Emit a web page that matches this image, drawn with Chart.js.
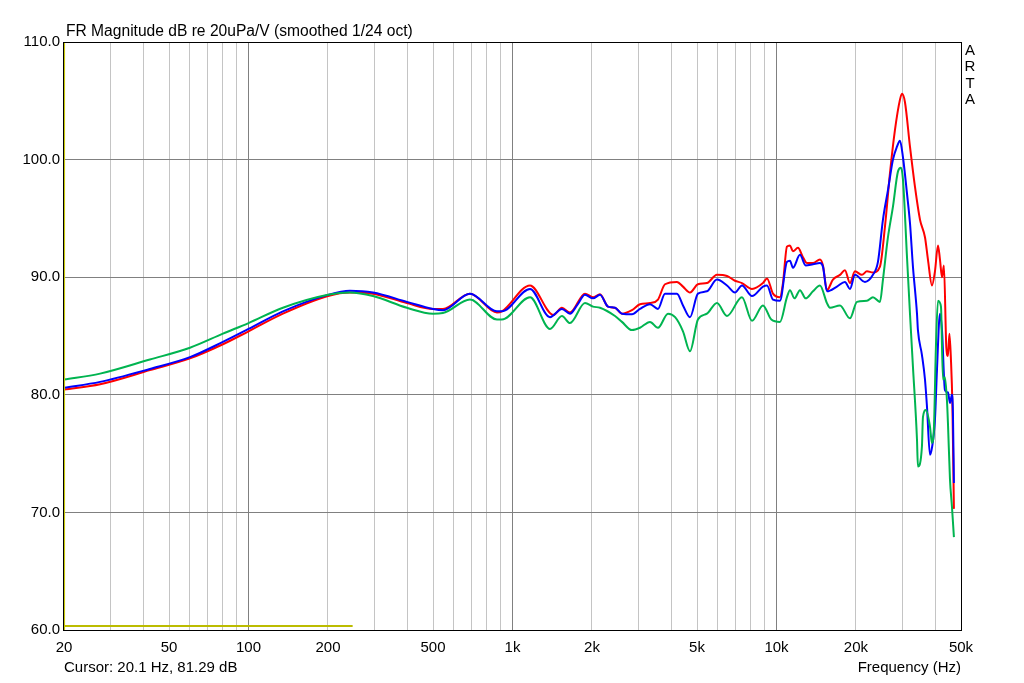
<!DOCTYPE html>
<html>
<head>
<meta charset="utf-8">
<script src="https://cdn.jsdelivr.net/npm/chart.js@4.4.0/dist/chart.umd.min.js"></script>
<style>
  body { margin: 0; background: #fff; }
  canvas { display: block; }
</style>
</head>
<body>
<canvas id="fr" width="1024" height="683"></canvas>
<script>
// frequency response, three measurements (dB re 20uPa/V)
var freqRed = [20, 27.4, 42.3, 60, 80, 100, 135, 200, 242, 296, 398, 500, 545, 690, 873, 912, 1165, 1428, 1539, 1651, 1882, 2018, 2145, 2300, 2445, 2598, 2835, 3040, 3318, 3557, 3782, 4198, 4424, 4702, 5040, 5452, 5950, 6494, 6962, 7400, 8076, 8888, 9206, 9698, 10308, 10582, 10956, 11247, 11546, 12060, 12598, 13046, 13746, 14612, 14998, 15530, 16366, 17396, 18168, 18980, 19826, 21074, 22014, 23196, 24660, 25760, 26900, 28100, 29360, 29880, 30660, 32040, 33460, 34960, 36520, 37480, 38820, 39840, 40900, 41620, 42360, 43080, 44000, 44620, 45200, 45800, 46400, 47000];
var dbRed = [80.45, 80.9, 82.1, 83.1, 84.3, 85.4, 86.9, 88.4, 88.7, 88.6, 87.8, 87.3, 87.3, 88.6, 87.0, 87.1, 89.3, 86.8, 87.4, 87.0, 88.6, 88.3, 88.55, 87.5, 87.4, 86.9, 87.2, 87.7, 87.8, 88.1, 89.4, 89.6, 89.2, 88.7, 89.4, 89.5, 90.2, 90.1, 89.7, 89.5, 89.0, 89.5, 89.9, 88.6, 88.3, 89.5, 92.6, 92.7, 92.2, 92.5, 91.7, 91.2, 91.2, 91.5, 91.0, 88.9, 89.8, 90.2, 90.6, 89.5, 90.5, 90.2, 90.5, 90.4, 90.9, 94.3, 98.8, 102.5, 105.1, 105.6, 104.9, 101.1, 97.7, 94.9, 93.4, 91.5, 89.3, 90.5, 92.7, 91.5, 90.0, 91.0, 84.0, 83.3, 85.2, 83.0, 79.0, 70.3];

var freqBlue = [20, 27.4, 42.3, 60, 80, 100, 135, 200, 242, 296, 398, 500, 545, 690, 873, 912, 1165, 1387, 1539, 1651, 1755, 1882, 2018, 2145, 2300, 2445, 2598, 2835, 3040, 3318, 3557, 3782, 4198, 4424, 4702, 5040, 5452, 5950, 6494, 6962, 7400, 8076, 8888, 9206, 9698, 10308, 10956, 11247, 11546, 12272, 12900, 13746, 14612, 14998, 15530, 16946, 18168, 18980, 19826, 21632, 23196, 24230, 25314, 26440, 27620, 28600, 29360, 30140, 31220, 32040, 32880, 34060, 34340, 35560, 36520, 37160, 38140, 38820, 39840, 40540, 41620, 42360, 43460, 44620, 45420, 46200, 46600, 47000];
var dbBlue = [80.6, 81.1, 82.2, 83.2, 84.5, 85.6, 87.1, 88.5, 88.85, 88.7, 87.9, 87.3, 87.2, 88.6, 87.1, 87.1, 89.0, 86.6, 87.3, 86.9, 87.6, 88.5, 88.2, 88.5, 87.5, 87.4, 86.9, 86.85, 87.3, 87.7, 87.3, 88.6, 88.6, 87.6, 86.6, 88.6, 88.8, 89.8, 89.3, 88.7, 89.3, 88.4, 89.2, 89.3, 88.1, 88.0, 91.3, 91.4, 90.8, 91.9, 91.0, 91.1, 91.2, 90.9, 88.8, 89.2, 89.6, 89.0, 90.2, 89.6, 90.2, 91.3, 94.9, 97.4, 100.0, 101.1, 101.6, 100.2, 97.1, 94.6, 90.9, 86.9, 85.5, 83.4, 81.3, 79.0, 74.9, 75.5, 77.9, 82.1, 86.9, 85.5, 80.4, 80.2, 79.3, 80.0, 78.5, 72.5];

var freqGreen = [20, 27.4, 42.3, 60, 80, 100, 135, 200, 242, 296, 398, 500, 545, 690, 873, 912, 1165, 1387, 1539, 1651, 1882, 2018, 2145, 2445, 2598, 2835, 3040, 3318, 3557, 3882, 4130, 4424, 4702, 5040, 5452, 5950, 6494, 7400, 8076, 8888, 9560, 10308, 10956, 11247, 11700, 12272, 12900, 13746, 14612, 15530, 15942, 17396, 18980, 20176, 22014, 23196, 24660, 25314, 26440, 27620, 28860, 29620, 30140, 31220, 32040, 32880, 34060, 34340, 35560, 35880, 36840, 38140, 38820, 39500, 40180, 40900, 41980, 42720, 43460, 44240, 44620, 45420, 46200, 47000];
var dbGreen = [81.3, 81.8, 83.0, 84.0, 85.2, 86.1, 87.4, 88.5, 88.7, 88.4, 87.4, 86.9, 86.95, 88.1, 86.4, 86.4, 88.3, 85.6, 86.7, 86.1, 87.8, 87.5, 87.4, 86.7, 86.2, 85.5, 85.7, 86.2, 85.7, 86.9, 86.6, 85.4, 83.7, 86.4, 86.9, 87.8, 86.7, 88.3, 86.3, 87.6, 86.4, 86.2, 88.3, 88.9, 88.2, 88.9, 88.2, 88.8, 89.3, 87.8, 87.4, 87.6, 86.5, 87.9, 88.0, 88.3, 87.9, 89.8, 93.4, 96.0, 99.0, 99.3, 98.3, 91.7, 86.9, 82.4, 76.2, 73.9, 75.6, 78.1, 78.7, 77.3, 75.9, 77.3, 84.1, 88.0, 87.5, 81.3, 81.5, 79.5, 77.6, 72.8, 70.5, 67.9];

// yellow marker at the bottom and the cursor
var markerFreq = [20, 248];
var markerDb = [60.35, 60.35];
var cursorFreq = 20.1;

var xGrid = [20, 30, 40, 50, 60, 70, 80, 90, 100, 200, 300, 400, 500, 600, 700, 800, 900,
  1000, 2000, 3000, 4000, 5000, 6000, 7000, 8000, 9000, 10000, 20000, 30000, 40000, 50000];
var xLabels = {20: '20', 50: '50', 100: '100', 200: '200', 500: '500', 1000: '1k', 2000: '2k',
  5000: '5k', 10000: '10k', 20000: '20k', 50000: '50k'};

function pts(f, d) {
  return f.map(function (v, i) { return {x: v, y: d[i]}; });
}

var FONT = '"Liberation Sans", Arial, sans-serif';

var frame = {
  id: 'frame',
  beforeDraw: function (chart) {
    var c = chart.ctx;
    c.save();
    c.fillStyle = '#fff';
    c.fillRect(0, 0, chart.width, chart.height);
    c.restore();
  },
  afterDraw: function (chart) {
    var c = chart.ctx, a = chart.chartArea;
    c.save();
    c.strokeStyle = '#000';
    c.lineWidth = 1;
    c.strokeRect(Math.round(a.left) - 0.5, Math.round(a.top) + 0.5,
      Math.round(a.right - a.left) + 1, Math.round(a.bottom - a.top));
    c.fillStyle = '#000';
    c.textBaseline = 'alphabetic';
    c.textAlign = 'left';
    c.font = '15.6px ' + FONT;
    c.fillText('FR Magnitude dB re 20uPa/V (smoothed 1/24 oct)', 66, 36);
    c.font = '15px ' + FONT;
    c.fillText('Cursor: 20.1 Hz, 81.29 dB', 64, 672);
    c.textAlign = 'right';
    c.fillText('Frequency (Hz)', 961, 672);
    c.textAlign = 'center';
    c.textBaseline = 'middle';
    var letters = ['A', 'R', 'T', 'A'];
    letters.forEach(function (l, i) { c.fillText(l, 970, 51 + i * 16.3); });
    c.restore();
  }
};

var curve = {borderWidth: 2, cubicInterpolationMode: 'monotone'};

var ctx = document.getElementById('fr');
var chart = new Chart(ctx, {
  type: 'line',
  data: {
    datasets: [
      {data: [{x: cursorFreq, y: 60}, {x: cursorFreq, y: 110}], borderColor: '#c8c800', borderWidth: 1},
      {data: pts(markerFreq, markerDb), borderColor: '#bcbc00', borderWidth: 2},
      Object.assign({data: pts(freqGreen, dbGreen), borderColor: '#00b450'}, curve),
      Object.assign({data: pts(freqBlue, dbBlue), borderColor: '#0000ff'}, curve),
      Object.assign({data: pts(freqRed, dbRed), borderColor: '#ff0000'}, curve)
    ]
  },
  options: {
    responsive: false,
    animation: false,
    events: [],
    layout: {padding: {left: 0, top: 42, right: 63, bottom: 0}},
    elements: {
      point: {radius: 0},
      line: {tension: 0, fill: false}
    },
    plugins: {legend: {display: false}, tooltip: {enabled: false}},
    scales: {
      x: {
        type: 'logarithmic',
        min: 20,
        max: 50000,
        afterBuildTicks: function (axis) {
          axis.ticks = xGrid.map(function (v) { return {value: v}; });
        },
        afterFit: function (s) { s.height = 53; },
        border: {display: false},
        grid: {
          drawTicks: false,
          color: function (c) {
            var v = c.tick ? c.tick.value : 0;
            return (v === 100 || v === 1000 || v === 10000) ? '#808080' : '#c4c4c4';
          }
        },
        ticks: {
          autoSkip: false,
          maxRotation: 0,
          padding: 9,
          color: '#000',
          font: {family: FONT, size: 15},
          callback: function (v) { return xLabels[v] || ''; }
        }
      },
      y: {
        min: 60,
        max: 110,
        afterFit: function (s) { s.width = 64; },
        border: {display: false},
        grid: {drawTicks: false, color: '#808080'},
        ticks: {
          stepSize: 10,
          padding: 4,
          color: '#000',
          font: {family: FONT, size: 15},
          callback: function (v) { return v.toFixed(1); }
        }
      }
    }
  },
  plugins: [frame]
});
</script>
</body>
</html>
